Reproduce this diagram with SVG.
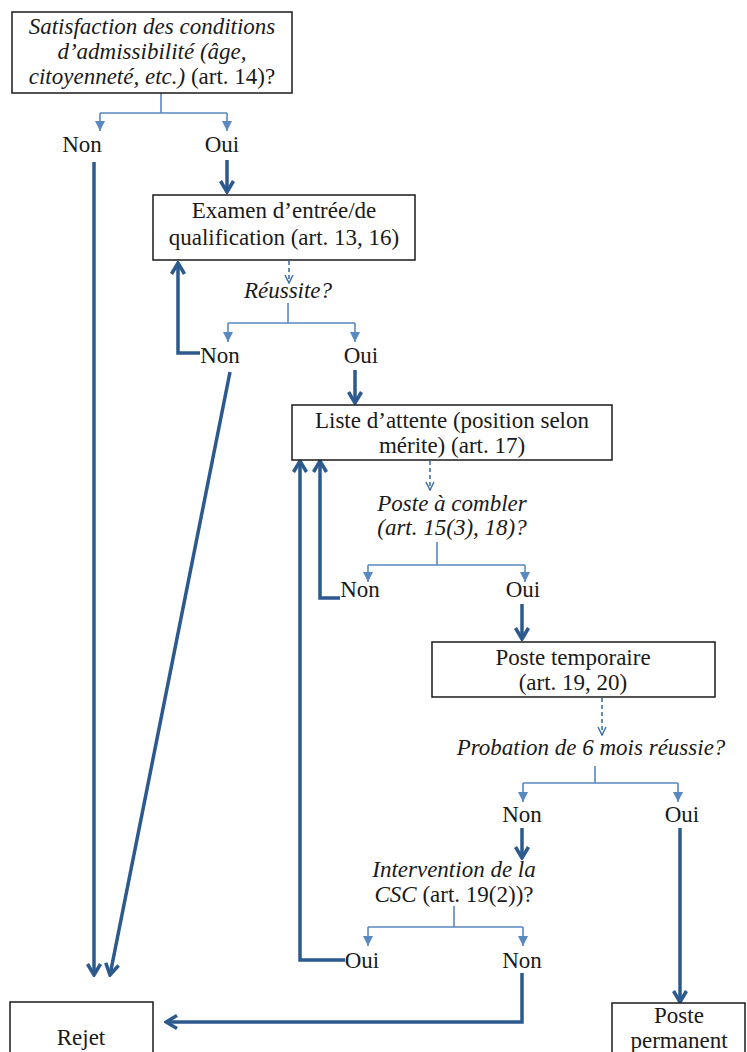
<svg xmlns="http://www.w3.org/2000/svg" width="747" height="1052" viewBox="0 0 747 1052">
<style>
text{font-size:23px;fill:#1a1a1a;text-anchor:middle}
.i{font-style:italic}
.box{fill:#fff;stroke:#1a1a1a;stroke-width:1.5}
.thin{fill:none;stroke:#5a88c0;stroke-width:1.6}
.thick{fill:none;stroke:#2d5a8e;stroke-width:3.5}
.dash{fill:none;stroke:#3f70a8;stroke-width:1.6;stroke-dasharray:4 3}
</style>
<defs>
<marker id="tri" viewBox="0 0 10 10" refX="10" refY="5" markerWidth="10" markerHeight="10" markerUnits="userSpaceOnUse" orient="auto"><path d="M0,0 L10,5 L0,10 z" fill="#5a88c0"/></marker>
<marker id="chev" viewBox="0 0 16 16" refX="14" refY="8" markerWidth="16" markerHeight="16" markerUnits="userSpaceOnUse" orient="auto"><path d="M3,1.5 L14,8 L3,14.5" fill="none" stroke="#2d5a8e" stroke-width="3.5"/></marker>
<marker id="vee" viewBox="0 0 10 10" refX="9" refY="5" markerWidth="10" markerHeight="10" markerUnits="userSpaceOnUse" orient="auto"><path d="M1,1 L9,5 L1,9" fill="none" stroke="#3f70a8" stroke-width="1.5"/></marker>
</defs>
<rect width="747" height="1052" fill="#fff"/>
<g id="connectors">
<path class="thin" d="M161,93 V113 M100,113 H227"/>
<path class="thin" d="M100,113 V131" marker-end="url(#tri)"/>
<path class="thin" d="M227,113 V131" marker-end="url(#tri)"/>
<path class="thick" d="M227,160 V192" marker-end="url(#chev)"/>
<path class="thick" d="M94,162 V975" marker-end="url(#chev)"/>
<path class="dash" d="M289,261 V283" marker-end="url(#vee)"/>
<path class="thin" d="M288,303 V323 M228,323 H355"/>
<path class="thin" d="M228,323 V342" marker-end="url(#tri)"/>
<path class="thin" d="M355,323 V342" marker-end="url(#tri)"/>
<path class="thick" d="M200,353 H178 V263" marker-end="url(#chev)"/>
<path class="thick" d="M230,372 L110,975" marker-end="url(#chev)"/>
<path class="thick" d="M355,370 V403" marker-end="url(#chev)"/>
<path class="dash" d="M430,461 V490" marker-end="url(#vee)"/>
<path class="thin" d="M437,542 V565 M368,565 H525"/>
<path class="thin" d="M368,565 V582" marker-end="url(#tri)"/>
<path class="thin" d="M525,565 V582" marker-end="url(#tri)"/>
<path class="thick" d="M340,598 H320 V461" marker-end="url(#chev)"/>
<path class="thick" d="M522,604 V639" marker-end="url(#chev)"/>
<path class="dash" d="M602,698 V735" marker-end="url(#vee)"/>
<path class="thin" d="M595,766 V783 M523,783 H678"/>
<path class="thin" d="M523,783 V802" marker-end="url(#tri)"/>
<path class="thin" d="M678,783 V802" marker-end="url(#tri)"/>
<path class="thick" d="M522,828 V858" marker-end="url(#chev)"/>
<path class="thin" d="M454,906 V927 M368,927 H523"/>
<path class="thin" d="M368,927 V946" marker-end="url(#tri)"/>
<path class="thin" d="M523,927 V946" marker-end="url(#tri)"/>
<path class="thick" d="M345,960 H300 V461" marker-end="url(#chev)"/>
<path class="thick" d="M522,973 V1022 H166" marker-end="url(#chev)"/>
<path class="thick" d="M680,828 V1002" marker-end="url(#chev)"/>
</g>
<g font-family="Liberation Serif, serif">
<g id="q1">
<rect class="box" x="12" y="12" width="280" height="81"/>
<text x="152" y="34" class="i">Satisfaction des conditions</text>
<text x="152" y="59" class="i">d’admissibilité (âge,</text>
<text x="152" y="84"><tspan class="i">citoyenneté, etc.)</tspan> (art. 14)?</text>
</g>
<g id="q1-non"><text x="82" y="152">Non</text></g>
<g id="q1-oui"><text x="222" y="152">Oui</text></g>
<g id="examen">
<rect class="box" x="153" y="195" width="262" height="65"/>
<text x="284" y="218">Examen d’entrée/de</text>
<text x="284" y="245">qualification (art. 13, 16)</text>
</g>
<g id="q2"><text x="288" y="298" class="i">Réussite?</text></g>
<g id="q2-non"><text x="220" y="363">Non</text></g>
<g id="q2-oui"><text x="361" y="363">Oui</text></g>
<g id="liste">
<rect class="box" x="292" y="405" width="320" height="55"/>
<text x="452" y="428">Liste d’attente (position selon</text>
<text x="452" y="453">mérite) (art. 17)</text>
</g>
<g id="q3">
<text x="452" y="511" class="i">Poste à combler</text>
<text x="452" y="535" class="i">(art. 15(3), 18)?</text>
</g>
<g id="q3-non"><text x="360" y="597">Non</text></g>
<g id="q3-oui"><text x="523" y="597">Oui</text></g>
<g id="temporaire">
<rect class="box" x="432" y="642" width="283" height="55"/>
<text x="573" y="665">Poste temporaire</text>
<text x="573" y="690">(art. 19, 20)</text>
</g>
<g id="q4"><text x="591" y="755" class="i">Probation de 6 mois réussie?</text></g>
<g id="q4-non"><text x="522" y="822">Non</text></g>
<g id="q4-oui"><text x="682" y="822">Oui</text></g>
<g id="q5">
<text x="454" y="877" class="i">Intervention de la</text>
<text x="454" y="902"><tspan class="i">CSC</tspan> (art. 19(2))?</text>
</g>
<g id="q5-oui"><text x="362" y="968">Oui</text></g>
<g id="q5-non"><text x="522" y="968">Non</text></g>
<g id="rejet">
<rect class="box" x="10" y="1002" width="143" height="60"/>
<text x="81" y="1045">Rejet</text>
</g>
<g id="permanent">
<rect class="box" x="612" y="1003" width="133" height="60"/>
<text x="679" y="1023">Poste</text>
<text x="679" y="1048">permanent</text>
</g>
</g>
</svg>
